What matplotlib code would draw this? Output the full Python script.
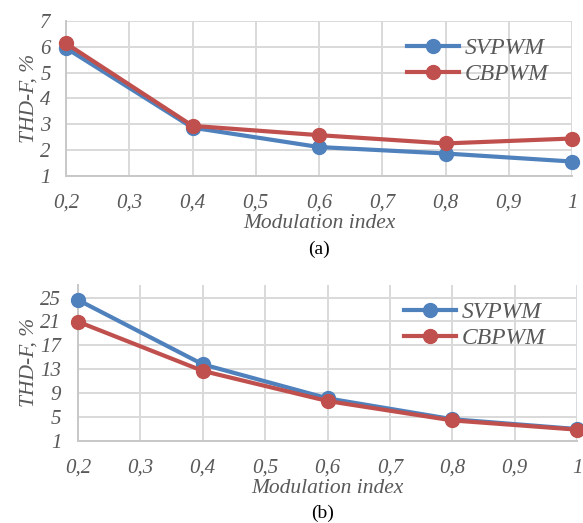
import matplotlib.pyplot as plt

# modulation index and THD-F values
m_index = [0.2, 0.4, 0.6, 0.8, 1.0]
svpwm_a = [5.95, 2.87, 2.12, 1.87, 1.56]
cbpwm_a = [6.13, 2.94, 2.58, 2.26, 2.45]
svpwm_b = [24.6, 13.8, 8.1, 4.6, 2.95]
cbpwm_b = [20.95, 12.7, 7.65, 4.4, 2.85]

x_ticks = [0.2, 0.3, 0.4, 0.5, 0.6, 0.7, 0.8, 0.9, 1.0]
x_labels = ["0,2", "0,3", "0,4", "0,5", "0,6", "0,7", "0,8", "0,9", "1"]
y_ticks_a = [1, 2, 3, 4, 5, 6, 7]
y_ticks_b = [1, 5, 9, 13, 17, 21, 25]

BLUE = "#4F81BD"
RED = "#C0504D"
GRAY = "#595959"
GRID = "#d9d9d9"

plt.rcParams["font.family"] = ["Liberation Serif", "DejaVu Serif"]

fig = plt.figure(figsize=(5.83, 5.23), dpi=100)
ax_a = fig.add_axes([0.1132, 0.6635, 0.868, 0.2965])
ax_b = fig.add_axes([0.1338, 0.1574, 0.856, 0.2976])


def style_axis(ax, yticks, ylim, pad_y):
    ax.set_xlim(0.2, 1.0)
    ax.set_ylim(*ylim)
    ax.set_xticks(x_ticks)
    ax.set_xticklabels(x_labels)
    ax.set_yticks(yticks)
    ax.set_yticklabels([str(v) for v in yticks])
    ax.grid(True, color=GRID, linewidth=1.4)
    ax.set_axisbelow(True)
    for side in ["top", "right"]:
        ax.spines[side].set_visible(False)
    for side in ["left", "bottom"]:
        ax.spines[side].set_color("#c8c8c8")
        ax.spines[side].set_linewidth(1.4)
    ax.tick_params(length=0, labelsize=15, labelcolor=GRAY)
    ax.tick_params(axis="x", pad=13)
    ax.tick_params(axis="y", pad=pad_y)
    for lab in ax.get_xticklabels() + ax.get_yticklabels():
        lab.set_style("italic")
    ax.set_xlabel("Modulation index", fontsize=15.5, color=GRAY, style="italic", labelpad=1)
    ax.set_ylabel("THD-F, %", fontsize=15.5, color=GRAY, style="italic", labelpad=1)
    ax.patch.set_alpha(0)


for ax, sv, cb, yt, yl, pad, anchor in [(ax_a, svpwm_a, cbpwm_a, y_ticks_a, (1, 7), 11, (0.995, 1.03)),
                                        (ax_b, svpwm_b, cbpwm_b, y_ticks_b, (1, 27.1), 12, (0.98, 1.03))]:
    ax.plot(m_index, sv, color=BLUE, lw=3, marker="o", ms=10, label="SVPWM", clip_on=False, zorder=3)
    ax.plot(m_index, cb, color=RED, lw=3, marker="o", ms=10, label="CBPWM", clip_on=False, zorder=4)
    style_axis(ax, yt, yl, pad)
    leg = ax.legend(loc="upper right", bbox_to_anchor=anchor, frameon=False,
                    prop={"size": 17, "style": "italic"}, handlelength=2.2,
                    handletextpad=0.25, labelspacing=0.2)
    for t in leg.get_texts():
        t.set_color(GRAY)

fig.text(0.547, 0.524, "(a)", ha="center", va="center", fontsize=14)
fig.text(0.553, 0.018, "(b)", ha="center", va="center", fontsize=14)

fig.savefig("out.png", dpi=100)
